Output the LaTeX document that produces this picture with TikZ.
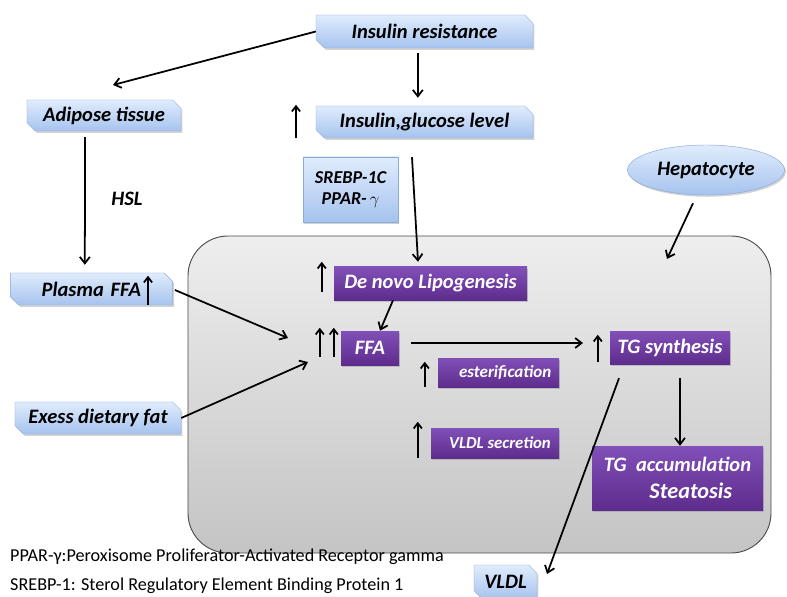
\documentclass[tikz,border=0pt]{standalone}
\usepackage{fontspec}
\setmainfont{Carlito}
\usetikzlibrary{arrows.meta,shapes.geometric,shapes.misc,shadows}

\definecolor{bluetop}{HTML}{E0ECFD}
\definecolor{bluebot}{HTML}{A6C3EE}
\definecolor{blueline}{HTML}{8AAAD8}
\definecolor{purptop}{HTML}{8150B8}
\definecolor{purpbot}{HTML}{5E2C8C}
\definecolor{celltop}{HTML}{EEEEEE}
\definecolor{cellbot}{HTML}{C4C4C4}

\tikzset{
  bluebox/.style={chamfered rectangle, chamfered rectangle corners={north east,south west},
    chamfered rectangle xsep=4pt, draw=blueline, top color=bluetop, bottom color=bluebot,
    drop shadow={opacity=0.35,shadow xshift=1.2pt,shadow yshift=-1.5pt},
    inner sep=0pt, font=\fontsize{17.5}{20}\selectfont\bfseries\itshape},
  purpbox/.style={rectangle, top color=purptop, bottom color=purpbot, text=white,
    drop shadow={opacity=0.35,shadow xshift=1.2pt,shadow yshift=-1.5pt},
    inner sep=0pt, font=\fontsize{17.5}{20}\selectfont\bfseries\itshape},
  arr/.style={line width=1.5pt, -{Straight Barb[length=5.5pt,width=8.5pt]}},
  uparr/.style={line width=1.5pt, -{Straight Barb[length=4.5pt,width=7pt]}},
  legend/.style={anchor=west, font=\fontsize{15.5}{18}\selectfont, inner sep=0pt}
}

\begin{document}
\begin{tikzpicture}[x=0.03cm,y=-0.03cm]
	\useasboundingbox (0,0) rectangle (787,597);
	
	% hepatocyte
	\node[rectangle, rounded corners=1.2cm, draw=black!70, line width=0.8pt,
	  top color=celltop, bottom color=cellbot, minimum width=17.49cm, minimum height=9.51cm]
	  (cell) at (479.5,394.5) {};
	
	% blue boxes
	\node[bluebox, minimum width=6.51cm, minimum height=0.99cm] (ir) at (424.5,31.5) {Insulin resistance};
	\node[bluebox, minimum width=4.62cm, minimum height=0.93cm] (adi) at (104,115.5) {Adipose tissue};
	\node[bluebox, minimum width=6.51cm, minimum height=0.96cm] (igl) at (424.5,122) {Insulin,glucose level};
	\node[rectangle, draw=blueline, top color=bluetop, bottom color=bluebot, inner sep=0pt,
	  drop shadow={opacity=0.35,shadow xshift=1.2pt,shadow yshift=-1.5pt},
	  font=\fontsize{15.5}{18}\selectfont\bfseries\itshape, align=center,
	  minimum width=2.85cm, minimum height=1.95cm] (srebp) at (350.5,189.5) {SREBP-1C\\PPAR-\,{\upshape\mdseries$\gamma$}};
	\node[ellipse, draw=blueline, top color=bluetop, bottom color=bluebot, inner sep=0pt,
	  drop shadow={opacity=0.35,shadow xshift=1.2pt,shadow yshift=-1.5pt},
	  font=\fontsize{17.5}{20}\selectfont\bfseries\itshape,
	  minimum width=4.71cm, minimum height=1.5cm] (hep) at (706,170) {Hepatocyte};
	\node[bluebox, minimum width=4.59cm, minimum height=0.96cm, text width=4.59cm, align=left] (pffa) at (91.5,289) {\hspace{0.8cm}Plasma FFA};
	\node[bluebox, minimum width=4.98cm, minimum height=0.96cm] (edf) at (98,418) {Exess dietary fat};
	\node[bluebox, minimum width=1.89cm, minimum height=1.02cm] (vldl) at (505.5,582) {VLDL};
	
	% purple boxes
	\node[purpbox, minimum width=5.79cm, minimum height=0.99cm] (dnl) at (430.5,283.5) {De novo Lipogenesis};
	\node[purpbox, minimum width=1.74cm, minimum height=1.02cm] (ffa) at (370,348) {FFA};
	\node[purpbox, minimum width=3.63cm, minimum height=0.87cm, font=\fontsize{14.5}{17}\selectfont\bfseries\itshape] (est) at (498.5,372.5) {\hspace{0.4cm}esterification};
	\node[purpbox, minimum width=3.6cm, minimum height=0.99cm] (tgs) at (670,347.5) {TG synthesis};
	\node[purpbox, minimum width=3.84cm, minimum height=0.9cm, font=\fontsize{14.3}{17}\selectfont\bfseries\itshape] (vsec) at (495,443) {\hspace{0.3cm}VLDL secretion};
	\node[purpbox, minimum width=5.13cm, minimum height=1.92cm, align=center,
	  font=\fontsize{17.5}{23}\selectfont\bfseries\itshape] (tga) at (677.5,478) {TG\ \ accumulation\\\hspace*{0.8cm}{\fontsize{19}{23}\selectfont Steatosis}};
	
	% labels
	\node[font=\fontsize{17.5}{20}\selectfont\bfseries\itshape] (hsl) at (127,199) {HSL};
	\node[legend] (leg1) at (10,557) {PPAR-γ:Peroxisome Proliferator-Activated Receptor gamma};
	\node[legend] (leg2) at (10,586) {SREBP-1: Sterol Regulatory Element Binding Protein 1};
	
	% free ends
	\coordinate (adiin) at (113,85);
	\coordinate (hepin) at (667,259);
	\coordinate (ffain1) at (288,338);
	\coordinate (ffain2) at (308,362);
	\coordinate (tgin) at (583,343);
	\coordinate (vldlin) at (547,574);
	
	% connectors
	\draw[arr] (ir.west) -- (adiin);
	\draw[arr] ([xshift=-0.2cm,yshift=-0.15cm]ir.south) -- ([xshift=-0.2cm,yshift=0.24cm]igl.north);
	\draw[arr] ([xshift=-0.57cm,yshift=-0.18cm]adi.south) -- ([xshift=-0.2cm,yshift=0.24cm]pffa.north);
	\draw[arr] ([xshift=-0.375cm,yshift=-0.57cm]igl.south) -- ([xshift=-0.375cm,yshift=0.15cm]dnl.north);
	\draw[arr] ([xshift=-0.39cm,yshift=-0.24cm]hep.south) -- (hepin);
	\draw[arr] ([xshift=0.06cm,yshift=-0.03cm]pffa.east) -- (ffain1);
	\draw[arr] (edf.east) -- (ffain2);
	\draw[arr] ([xshift=-1.125cm]dnl.south) -- ([xshift=0.3cm]ffa.north);
	\draw[arr] ([xshift=0.36cm]ffa.east |- tgin) -- (tgin);
	\draw[arr] ([xshift=-1.53cm,yshift=-0.42cm]tgs.south) -- (vldlin);
	\draw[arr] ([xshift=0.3cm,yshift=-0.42cm]tgs.south) -- ([xshift=0.075cm]tga.north);
	
	% up arrows
	\draw[uparr] ([xshift=-3.855cm]igl.south) -- ([xshift=-3.855cm,yshift=0.03cm]igl.north);
	\draw[uparr] ([xshift=-0.36cm,yshift=0.24cm]dnl.south west) -- ([xshift=-0.36cm,yshift=0.15cm]dnl.north west);
	\draw[uparr] ([xshift=-0.63cm,yshift=0.24cm]ffa.south west) -- ([xshift=-0.63cm,yshift=0.09cm]ffa.north west);
	\draw[uparr] ([xshift=-0.21cm,yshift=0.24cm]ffa.south west) -- ([xshift=-0.21cm,yshift=0.09cm]ffa.north west);
	\draw[uparr] ([xshift=-0.39cm]est.south west) -- ([xshift=-0.39cm,yshift=-0.12cm]est.north west);
	\draw[uparr] ([xshift=-0.36cm,yshift=0.06cm]tgs.south west) -- ([xshift=-0.36cm,yshift=-0.12cm]tgs.north west);
	\draw[uparr] ([xshift=-0.39cm]vsec.south west) -- ([xshift=-0.39cm,yshift=0.18cm]vsec.north west);
	\draw[uparr] ([xshift=1.695cm]pffa.south) -- ([xshift=1.695cm,yshift=-0.09cm]pffa.north);
\end{tikzpicture}
\end{document}
